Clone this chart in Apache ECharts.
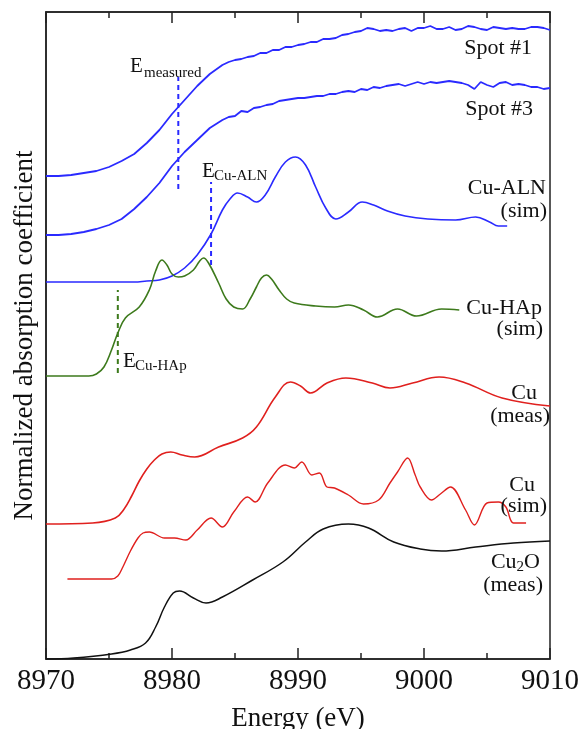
<!DOCTYPE html>
<html>
<head>
<meta charset="utf-8">
<script src="https://cdn.jsdelivr.net/npm/echarts@6/dist/echarts.min.js"></script>
<style>
html,body{margin:0;padding:0;background:#ffffff;}
#chart{width:583px;height:729px;}
</style>
</head>
<body>
<div id="chart"></div>
<script>
// ---------------- DATA (energy in eV, absorption in arbitrary offset units) ----------------
const xTickLabels = [8970, 8980, 8990, 9000, 9010];

const spot1E = [8970,8971,8972,8973,8974,8975,8976,8977,8978,8979,8980,8981,8982,8983,
  8984,8984.5,8985,8985.5,8986,8986.5,8987,8987.5,8988,8988.5,8989,8989.5,8990,8990.5,8991,8991.5,
  8992,8992.5,8993,8993.5,8994,8994.5,8995,8995.5,8996,8996.5,8997,8997.5,8998,8998.5,8999,8999.5,
  9000,9000.5,9001,9001.5,9002,9002.5,9003,9003.5,9004,9004.5,9005,9005.5,9006,9006.5,9007,9007.5,
  9008,9008.5,9009,9009.5,9010];
const spot1Y = [483,483,484,486,488,492,498,505,516,529,545,559,573,585,
  594,597,599,600,602,603,606,606,609,609,612,612,614,615,617,617,
  620,620,621,624,625,627,628,631,630,628,629,628,630,631,628,631,
  631,633,630,630,632,629,630,633,632,630,629,632,631,630,631,630,
  630,632,632,631,629];

const spot3E = [8970,8971,8972,8973,8974,8975,8976,8977,8978,8979,8980,8981,8982,
  8983,8983.5,8984,8984.5,8985,8985.5,8986,8986.5,8987,8987.5,8988,8988.5,8989,8989.5,8990,8990.5,
  8991,8991.5,8992,8992.5,8993,8993.5,8994,8994.5,8995,8995.5,8996,8996.5,8997,8997.5,8998,8998.5,
  8999,8999.5,9000,9000.5,9001,9001.5,9002,9002.5,9003,9003.5,9004,9004.5,9005,9005.5,9006,9006.5,
  9007,9007.5,9008,9008.5,9009,9009.5,9010];
const spot3Y = [424,424,425,427,430,434,440,450,462,476,493,507,519,
  531,535,539,542,543,548,547,551,552,554,555,558,559,560,561,561,
  562,563,563,565,565,567,568,567,570,569,572,571,573,574,575,573,
  575,577,575,577,576,577,578,577,576,574,570,577,574,572,576,577,
  574,575,574,572,572,570,571];

const cuAlnE = [8970,8975,8977,8978,8979,8980,8981,8982,8983.1,8984,8984.6,8985.2,8986,8986.7,8987.4,
  8988.2,8989,8989.8,8990.6,8991.4,8992.2,8993,8994,8995.1,8996,8997.1,8998.5,9000.3,9002.5,9004.1,
  9005.2,9005.9,9006.6];
const cuAlnY = [377,377,377,378,379,383,391,404,425,449,460,466,462,457,464,
  482,497,502,494,472,451,440,447,457,454,448,443,440,439,442,
  437,433,433];

const cuHapE = [8970,8973.4,8974,8974.6,8975.2,8975.7,8976.3,8977.4,8978.2,8978.7,8979.2,8979.6,
  8980,8980.5,8981,8981.7,8982.2,8982.5,8982.9,8983.7,8984.3,8984.9,8985.6,8986.2,8986.7,8987.1,
  8987.5,8987.9,8988.5,8989.1,8989.7,8991.4,8992.9,8994,8995.2,8996.3,8997.9,8999.4,9001.4,9002.8];
const cuHapY = [283,283,285,292,309,326,341,352,369,388,399,394,
  385,382,383,389,398,401,396,376,360,352,350,360,372,381,
  384,380,369,360,356,353,352,354,349,342,350,343,350,349];

const cuMeasE = [8970,8973.7,8975.5,8976.2,8976.8,8977.4,8978,8978.6,8979.2,8979.9,8980.8,8981.8,
  8983.7,8985.6,8986.7,8988.2,8989.4,8990.2,8991,8992.3,8993.8,8995.9,8997.3,8999.1,9001.2,9003.3,
  9006.2,9010];
const cuMeasY = [135,136,141,150,163,178,190,199,205,207,204,202,
  212,221,232,262,277,273,266,276,281,276,271,276,282,276,
  261,253];

const cuSimE = [8971.7,8975.2,8975.7,8976.1,8976.7,8977.3,8977.7,8978.2,8979.4,8980.2,8981.1,8982,
  8983.1,8984,8984.9,8986,8986.6,8987.6,8989,8989.7,8990.3,8991.1,8991.7,8992.3,8992.9,8994,
  8995.2,8996.4,8997.3,8997.9,8998.7,8999.3,8999.7,9000.6,9001.3,9002.1,9003.3,9004,9005,9005.9,
  9006.5,9007.1,9008.1];
const cuSimY = [80,80,83,92,108,121,126,127,121,121,119,129,
  141,132,147,162,157,176,194,191,197,184,186,172,171,164,
  155,159,176,187,201,184,172,159,165,172,149,134,156,157,
  152,136,136];

const cu2oE = [8970,8972.2,8975.2,8976.7,8977.9,8978.7,8979.4,8980.1,8980.6,8981.7,8982.7,8984,
  8986.4,8988.8,8990.6,8992,8994,8995.6,8997.6,8999.7,9001.4,9004.1,9007.1,9010];
const cu2oY = [0,1,5,9,16,32,52,66,68,61,56,62,
  79,97,117,130,135,131,117,110,108,112,116,118];

// edge-energy markers (dashed verticals)
const eMeasuredE = [8980.5, 8980.5];
const eMeasuredY = [470, 582];
const eCuAlnE = [8983.1, 8983.1];
const eCuAlnY = [394, 477];
const eCuHapE = [8975.7, 8975.7];
const eCuHapY = [286, 369];

// ---------------- CHART ----------------
const zip = (a, b) => a.map((v, i) => [v, b[i]]);
const FONT = 'Liberation Serif';
const BLUE = '#2a2aff', GREEN = '#3d7a1c', RED = '#e0201e', BLACK = '#111111';

function curve(name, e, y, color, width, smooth) {
  return {
    name, type: 'line', data: zip(e, y), showSymbol: false, symbol: 'none',
    smooth: smooth, lineStyle: { color, width }, z: 3, silent: true, animation: false
  };
}
function marker(name, e, y, color) {
  return {
    name, type: 'line', data: zip(e, y), showSymbol: false, symbol: 'none',
    lineStyle: { color, width: 2, type: [5, 4] }, z: 2, silent: true, animation: false
  };
}
function txt(text, x, y, align, size) {
  return {
    type: 'text', x, y, silent: true, z: 10,
    style: { text, fill: '#111', font: size + 'px "' + FONT + '"', align: align, verticalAlign: 'middle' }
  };
}

const axisCommon = {
  type: 'value', min: xTickLabels[0], max: xTickLabels[xTickLabels.length - 1], interval: 10,
  axisLine: { show: true, lineStyle: { color: '#222', width: 1.5 } },
  axisTick: { show: true, inside: true, length: 11, lineStyle: { color: '#222', width: 1.5 } },
  minorTick: { show: true, splitNumber: 2, length: 6, lineStyle: { color: '#222', width: 1.5 } },
  splitLine: { show: false }
};

const option = {
  backgroundColor: '#ffffff',
  animation: false,
  grid: { left: 46, right: 33, top: 12, bottom: 70, show: true, borderColor: '#222', borderWidth: 1.5,
    containLabel: false, outerBoundsMode: 'none' },
  xAxis: [
    Object.assign({}, axisCommon, {
      position: 'bottom',
      name: 'Energy (eV)', nameLocation: 'middle', nameGap: 46, nameMoveOverlap: false,
      nameTextStyle: { fontFamily: FONT, fontSize: 27, color: '#111' },
      axisLabel: { show: true, margin: 8, fontFamily: FONT, fontSize: 29, color: '#111',
        formatter: v => String(v) }
    }),
    Object.assign({}, axisCommon, { position: 'top', axisLabel: { show: false } })
  ],
  yAxis: {
    type: 'value', min: 0, max: 647,
    name: 'Normalized absorption coefficient', nameLocation: 'middle', nameGap: 8, nameMoveOverlap: false,
    nameTextStyle: { fontFamily: FONT, fontSize: 27, color: '#111' },
    axisLine: { show: true, lineStyle: { color: '#222', width: 1.5 } },
    axisTick: { show: false }, axisLabel: { show: false }, splitLine: { show: false }
  },
  series: [
    curve('Spot #1', spot1E, spot1Y, BLUE, 1.8, false),
    curve('Spot #3', spot3E, spot3Y, BLUE, 1.8, false),
    curve('Cu-ALN (sim)', cuAlnE, cuAlnY, BLUE, 1.6, 0.4),
    curve('Cu-HAp (sim)', cuHapE, cuHapY, GREEN, 1.6, 0.4),
    curve('Cu (meas)', cuMeasE, cuMeasY, RED, 1.6, 0.4),
    curve('Cu (sim)', cuSimE, cuSimY, RED, 1.4, 0.35),
    curve('Cu2O (meas)', cu2oE, cu2oY, BLACK, 1.5, 0.4),
    marker('E measured', eMeasuredE, eMeasuredY, BLUE),
    marker('E Cu-ALN', eCuAlnE, eCuAlnY, BLUE),
    marker('E Cu-HAp', eCuHapE, eCuHapY, GREEN)
  ],
  graphic: [
    txt('Spot #1', 532, 48, 'right', 22),
    txt('Spot #3', 533, 109, 'right', 22),
    txt('Cu-ALN', 546, 188, 'right', 22),
    txt('(sim)', 547, 211, 'right', 22),
    txt('Cu-HAp', 542, 308, 'right', 22),
    txt('(sim)', 543, 329, 'right', 22),
    txt('Cu', 537, 393, 'right', 22),
    txt('(meas)', 550, 416, 'right', 22),
    txt('Cu', 535, 485, 'right', 22),
    txt('(sim)', 547, 506, 'right', 22),
    {
      type: 'text', x: 540, y: 562, silent: true, z: 10,
      style: {
        text: '{a|Cu}{s|2}{a|O}', align: 'right', verticalAlign: 'middle', fill: '#111',
        rich: {
          a: { fontFamily: FONT, fontSize: 22, fill: '#111', lineHeight: 24 },
          s: { fontFamily: FONT, fontSize: 15, fill: '#111', lineHeight: 24, padding: [10, 0, 0, 0] }
        }
      }
    },
    txt('(meas)', 543, 585, 'right', 22),
    txt('E', 130, 66, 'left', 21),
    txt('measured', 144, 73, 'left', 15),
    txt('E', 202, 171, 'left', 21),
    txt('Cu-ALN', 214, 176, 'left', 15),
    txt('E', 123, 361, 'left', 21),
    txt('Cu-HAp', 135, 366, 'left', 15)
  ]
};

const chart = echarts.init(document.getElementById('chart'), null, { renderer: 'canvas' });
chart.setOption(option);
</script>
</body>
</html>
